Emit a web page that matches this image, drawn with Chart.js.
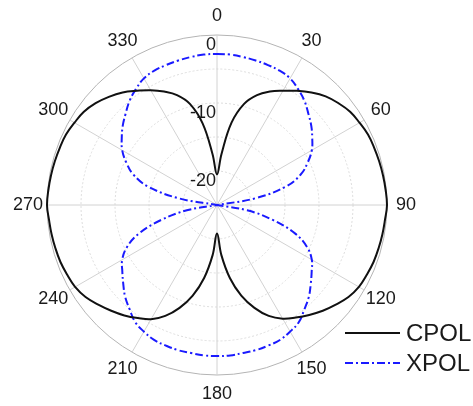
<!DOCTYPE html>
<html>
<head>
<meta charset="utf-8">
<script src="https://cdn.jsdelivr.net/npm/chart.js@4"></script>
<style>
  html, body { margin: 0; padding: 0; background: #fff; }
  #wrap { width: 473px; height: 406px; }
</style>
</head>
<body>
<div id="wrap"><canvas id="pattern_chart" width="473" height="406"></canvas></div>
<script>
// angle (deg) of every sample, 5 deg apart
const angleLabels = ['0','5','10','15','20','25','30','35','40','45','50','55','60','65','70','75','80','85',
  '90','95','100','105','110','115','120','125','130','135','140','145','150','155','160','165','170','175',
  '180','185','190','195','200','205','210','215','220','225','230','235','240','245','250','255','260','265',
  '270','275','280','285','290','295','300','305','310','315','320','325','330','335','340','345','350','355'];

// dB values
const cpolValues = [-20.5,-17.5,-12.7,-9.6,-7.8,-6.6,-5.6,-4.5,-3.4,-2.4,-1.7,-1.1,-0.8,-0.5,-0.4,-0.3,-0.2,-0.1,
  0,-0.2,-0.3,-0.4,-0.5,-0.7,-0.9,-1.4,-2.2,-3.0,-3.9,-4.8,-5.7,-7.0,-8.9,-11.2,-14.1,-17.6,
  -20.8,-17.6,-14.1,-11.2,-8.9,-7.0,-5.6,-4.7,-3.8,-3.0,-2.2,-1.4,-0.9,-0.7,-0.5,-0.4,-0.3,-0.2,
  0,-0.1,-0.2,-0.3,-0.4,-0.5,-0.8,-1.1,-1.7,-2.5,-3.4,-4.5,-5.5,-6.6,-7.8,-9.6,-12.8,-17.5];

const xpolValues = [-2.8,-2.8,-2.9,-3.0,-3.1,-3.2,-3.5,-4.2,-5.0,-6.0,-6.9,-7.9,-8.9,-10.3,-11.9,-14.5,-19.2,-25,
  -25,-25,-20.5,-16.5,-12.8,-10.4,-8.9,-8.0,-7.0,-5.9,-5.0,-4.0,-3.5,-3.1,-3.0,-2.9,-2.9,-2.8,
  -2.8,-2.8,-2.9,-2.9,-3.0,-3.1,-3.5,-4.0,-5.0,-5.9,-7.0,-8.0,-8.9,-10.4,-12.8,-16.5,-20.5,-25,
  -25,-25,-19.2,-14.5,-11.9,-10.3,-8.9,-7.9,-6.9,-6.0,-5.0,-4.2,-3.5,-3.2,-3.1,-3.0,-2.9,-2.8];

const angleTicks  = [0, 30, 60, 90, 120, 150, 180, 210, 240, 270, 300, 330];
const radialTicks = [0, -10, -20];
const seriesNames = ['CPOL', 'XPOL'];

const FONT = "'Liberation Sans', Arial, sans-serif";

// angle labels, radial labels and legend drawn on top of the radial scale
const polarLabels = {
  id: 'polarLabels',
  afterDraw(chart) {
    const ctx = chart.ctx;
    const scale = chart.scales.r;
    ctx.save();
    ctx.fillStyle = '#1a1a1a';

    ctx.font = '18px ' + FONT;
    ctx.textAlign = 'center';
    ctx.textBaseline = 'middle';
    for (const a of angleTicks) {
      const idx = angleLabels.indexOf(String(a));
      const pos = scale.getPointPosition(idx, scale.drawingArea + 19);
      ctx.fillText(String(a), pos.x, pos.y);
    }

    ctx.textAlign = 'right';
    ctx.textBaseline = 'top';
    for (const v of radialTicks) {
      const y = scale.yCenter - scale.getDistanceFromCenterForValue(v);
      ctx.fillText(String(v), scale.xCenter - 1, y + 1);
    }

    // legend
    const items = chart.data.datasets;
    ctx.font = '24px ' + FONT;
    ctx.textAlign = 'left';
    ctx.textBaseline = 'middle';
    items.forEach((ds, i) => {
      const y = 333 + i * 30;
      ctx.beginPath();
      ctx.setLineDash(ds.borderDash || []);
      ctx.strokeStyle = ds.borderColor;
      ctx.lineWidth = ds.borderWidth;
      ctx.moveTo(345, y);
      ctx.lineTo(400, y);
      ctx.stroke();
      ctx.setLineDash([]);
      ctx.fillText(ds.label, 406, y + 1);
    });
    ctx.restore();
  }
};

new Chart(document.getElementById('pattern_chart'), {
  type: 'radar',
  data: {
    labels: angleLabels,
    datasets: [
      {
        label: seriesNames[0],
        data: cpolValues,
        borderColor: '#111',
        borderWidth: 2,
        fill: false,
        pointRadius: 0,
        tension: 0.4
      },
      {
        label: seriesNames[1],
        data: xpolValues,
        borderColor: '#1a1aff',
        borderWidth: 2,
        borderDash: [8, 3, 2, 3],
        fill: false,
        pointRadius: 0,
        tension: 0.4
      }
    ]
  },
  options: {
    responsive: false,
    animation: false,
    layout: { padding: { left: 47, right: 86, top: 35, bottom: 31 } },
    plugins: {
      legend: { display: false },
      tooltip: { enabled: false }
    },
    scales: {
      r: {
        min: -25,
        max: 0,
        ticks: { stepSize: 5, display: false },
        pointLabels: { display: false },
        grid: {
          circular: true,
          color: c => c.tick && c.tick.value === 0 ? '#b4b4b4' : '#dcdcdc',
          lineWidth: 1
        },
        border: {
          dash: c => c.tick && c.tick.value === 0 ? [] : [2, 2]
        },
        angleLines: {
          color: '#d2d2d2',
          lineWidth: c => c.index % 6 === 0 ? 1 : 0
        }
      }
    }
  },
  plugins: [polarLabels]
});
</script>
</body>
</html>
